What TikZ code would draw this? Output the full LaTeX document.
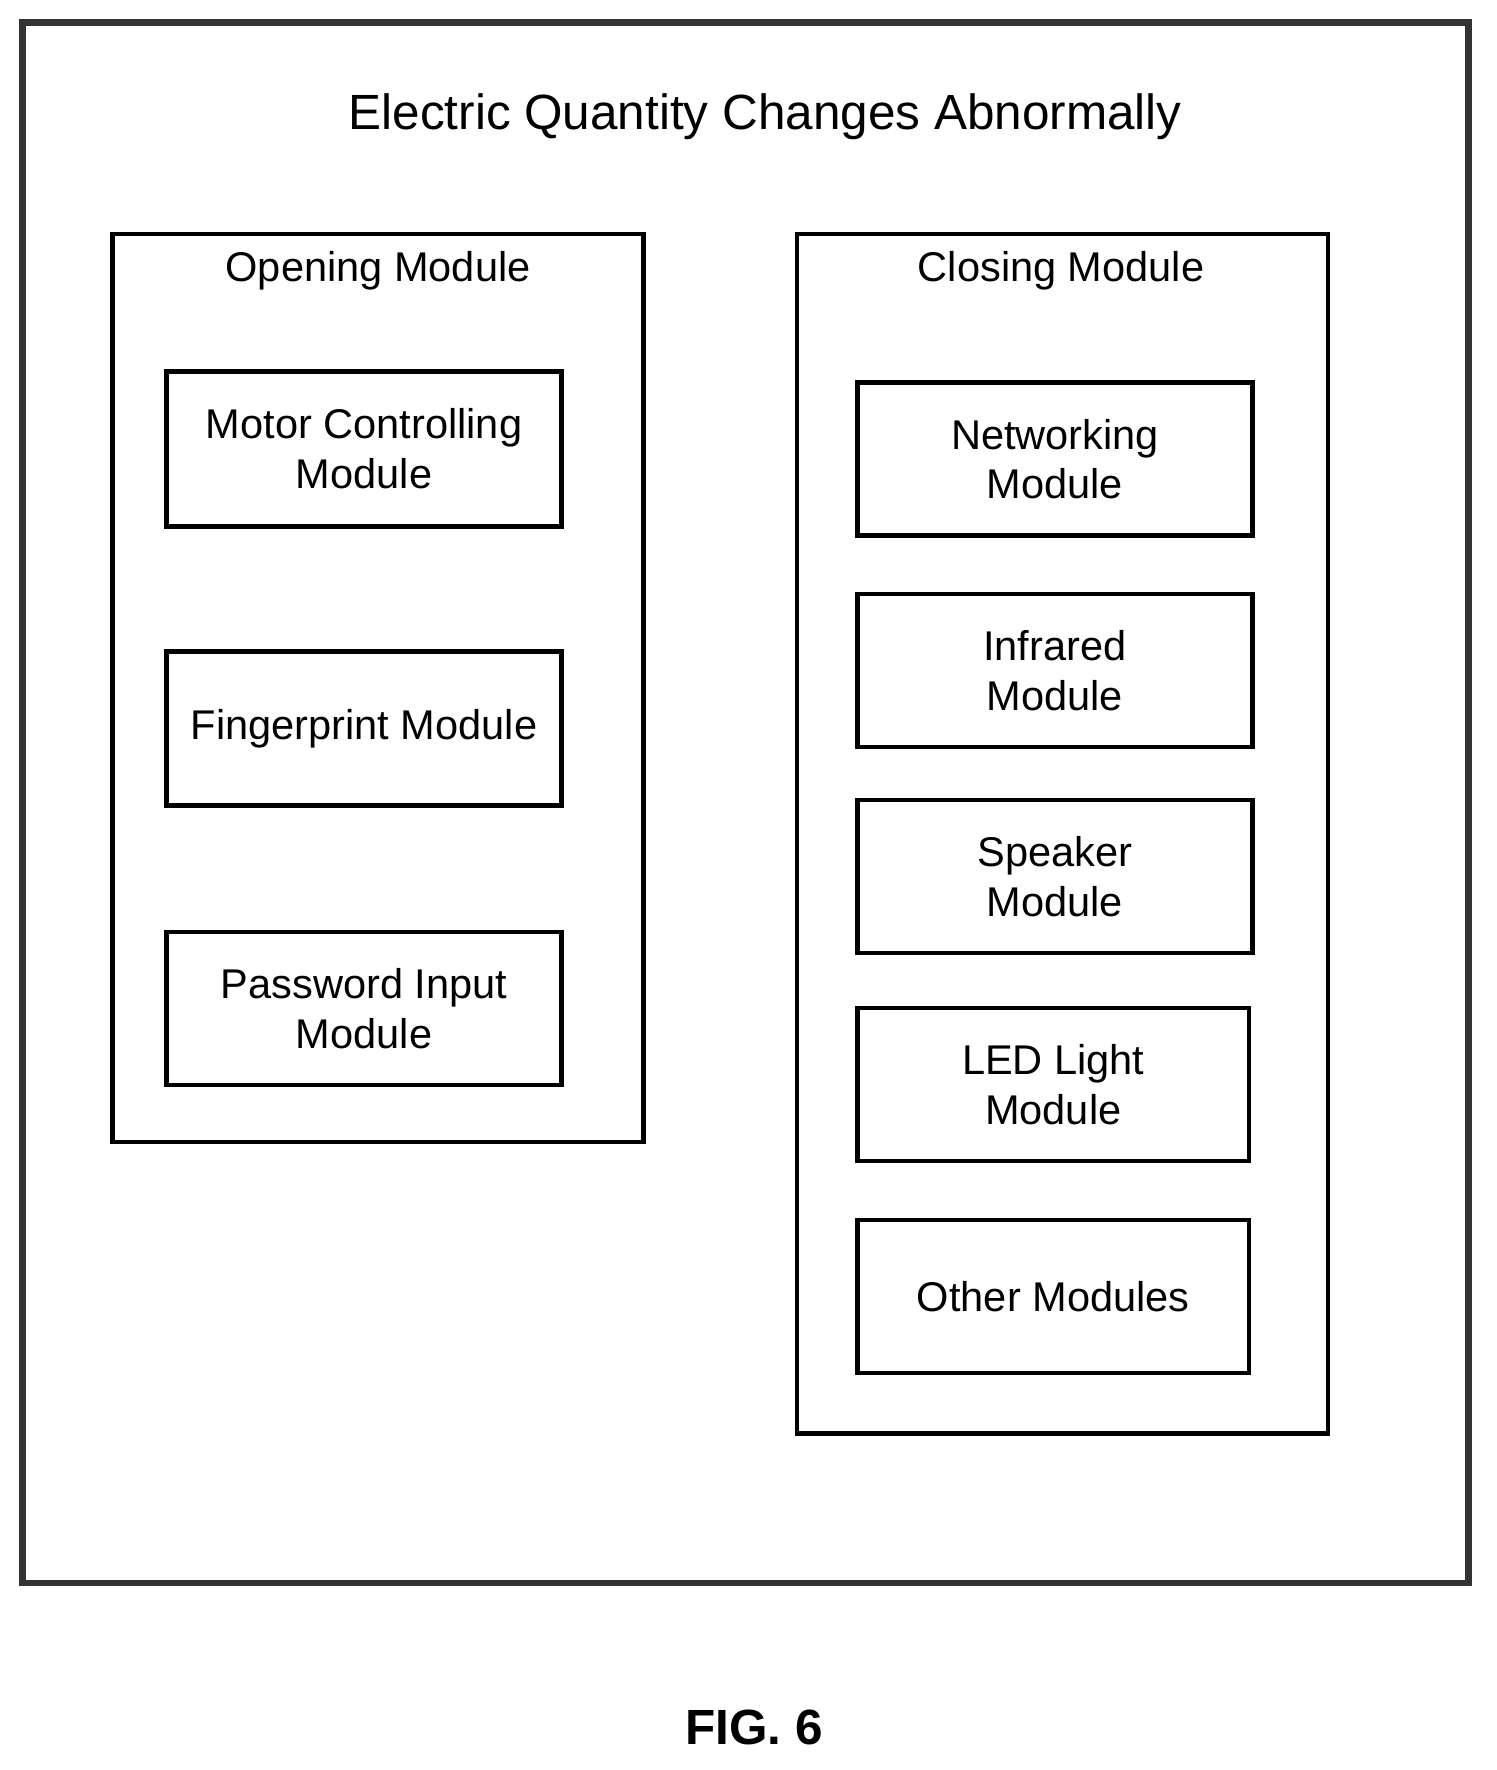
\documentclass[tikz,border=0pt]{standalone}
\usepackage{fontspec}
\setmainfont{Liberation Sans}
\begin{document}
\begin{tikzpicture}[x=0.01cm,y=-0.01cm,
  box/.style={draw,line width=1.1pt},
  mod/.style={font=\fontsize{10.5}{12.6}\selectfont,align=center},
  ttl/.style={font=\fontsize{10.5}{12.6}\selectfont}]
\useasboundingbox (0,0) rectangle (1330,1573);
\draw[line width=1.6pt,draw=black!80] (20,20) rectangle (1305,1407);
\node[font=\fontsize{12.5}{15}\selectfont] (main) at (680,104) {Electric Quantity Changes Abnormally};
\draw[box] (100,208) rectangle (572,1015);
\node[ttl] (open) at (336,241) {Opening Module};
\draw[box] (708,208) rectangle (1180,1274);
\node[ttl] (close) at (943,241) {Closing Module};
\foreach \n/\a/\b/\c/\d/\t in {
 m/148/330/499/468/{Motor Controlling\\Module},
 f/148/579/499/716/{Fingerprint Module},
 p/148/828/499/964/{Password Input\\Module},
 n/762/340/1113/476/{Networking\\Module},
 i/762/528/1113/664/{Infrared\\Module},
 s/762/711/1113/847/{Speaker\\Module},
 l/762/896/1110/1032/{LED Light\\Module},
 o/762/1084/1110/1220/{Other Modules}}{
 \draw[box] (\a,\b) rectangle (\c,\d);
 \node[mod] (\n) at ({(\a+\c)/2},{(\b+\d)/2}) {\t};
}
\node[font=\fontsize{12.5}{15}\selectfont\bfseries] (fig) at (670,1535) {FIG. 6};
\end{tikzpicture}
\end{document}
